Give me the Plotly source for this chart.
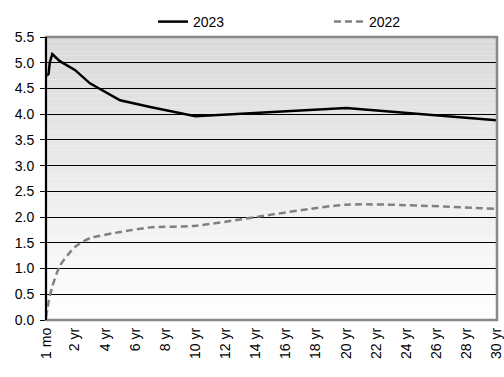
import plotly.graph_objects as go

# Maturities in years
mat_2023 = [1/12, 2/12, 3/12, 4/12, 0.5, 1, 2, 3, 5, 7, 10, 20, 30]
yld_2023 = [4.74, 4.76, 4.78, 5.00, 5.17, 5.03, 4.86, 4.60, 4.27, 4.14, 3.96, 4.12, 3.88]

mat_2022 = [1/12, 2/12, 3/12, 0.5, 1, 2, 3, 5, 7, 10, 20, 30]
yld_2022 = [0.05, 0.20, 0.35, 0.65, 1.05, 1.42, 1.59, 1.71, 1.80, 1.83, 2.24, 2.16]

tick_vals = [1/12] + list(range(2, 31, 2))
tick_text = ["1 mo"] + [f"{v} yr" for v in range(2, 31, 2)]
y_ticks = [i * 0.5 for i in range(12)]

FONT = "Arial, Liberation Sans, sans-serif"

fig = go.Figure()
fig.add_trace(go.Scatter(x=mat_2023, y=yld_2023, mode="lines", name="2023",
                         line=dict(color="black", width=2.5)))
fig.add_trace(go.Scatter(x=mat_2022, y=yld_2022, mode="lines", name="2022",
                         line=dict(color="#808080", width=2.5, dash="7px,4px",
                                   shape="spline", smoothing=0.6)))

# gradient background via bands
shapes = []
n = 60
for i in range(n):
    t = i / (n - 1)
    c = int(round(218 + (254 - 218) * t))
    shapes.append(dict(type="rect", xref="x domain", yref="y domain",
                       x0=0, x1=1, y0=1 - (i + 1) / n, y1=1 - i / n,
                       fillcolor=f"rgb({c},{c},{c})", line=dict(width=0),
                       layer="below"))
shapes.append(dict(type="rect", xref="x domain", yref="y domain",
                   x0=0, x1=1, y0=0, y1=1, line=dict(color="#888888", width=2.5),
                   fillcolor="rgba(0,0,0,0)", layer="above"))
shapes.append(dict(type="line", xref="x domain", yref="y domain",
                   x0=0, x1=0, y0=0, y1=1, line=dict(color="black", width=2),
                   layer="above"))

fig.update_layout(
    width=504, height=377,
    margin=dict(l=46, r=7, t=37, b=57, autoexpand=False),
    paper_bgcolor="white", plot_bgcolor="rgba(0,0,0,0)",
    font=dict(family=FONT, size=14, color="black"),
    showlegend=True,
    legend=dict(orientation="h", xref="container", yref="container",
                x=153/504, xanchor="left", y=1 - 22/377, yanchor="middle",
                font=dict(size=14), entrywidth=131, entrywidthmode="pixels",
                bgcolor="rgba(0,0,0,0)"),
    shapes=shapes,
)
fig.update_xaxes(range=[1/12, 30.02], tickmode="array", tickvals=tick_vals, ticktext=tick_text,
                 tickangle=-90, showgrid=False, zeroline=False, showline=False,
                 ticks="", tickfont=dict(size=14), automargin=False,
                 ticklabeloverflow="allow", ticklabelstandoff=4)
fig.update_yaxes(range=[0, 5.5], tickmode="array", tickvals=y_ticks,
                 ticktext=[f"{v:.1f}" for v in y_ticks],
                 showgrid=True, gridcolor="black", gridwidth=1, zeroline=False,
                 showline=False, ticks="outside", ticklen=5, tickcolor="black",
                 tickfont=dict(size=14), automargin=False, ticklabelstandoff=3)

fig.write_html("out.html", config={"displayModeBar": False},
               post_script="document.body.style.margin='0';document.body.style.overflow='hidden';")
